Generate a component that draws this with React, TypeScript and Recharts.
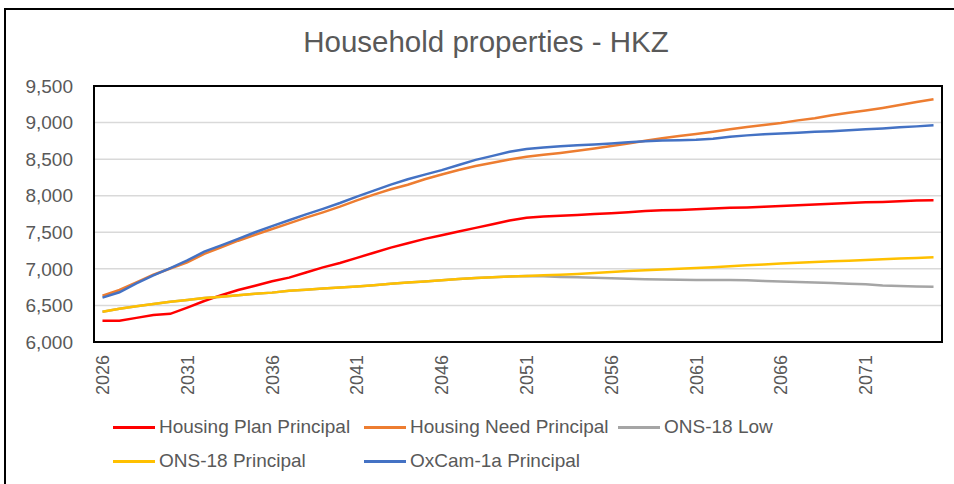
import React from "react";
import {
  LineChart,
  Line,
  XAxis,
  YAxis,
  CartesianGrid,
  ReferenceArea,
  Legend,
} from "recharts";

// ---------------------------------------------------------------------------
// Data
// ---------------------------------------------------------------------------

const years: number[] = Array.from({ length: 50 }, (_, i) => 2026 + i);

const seriesNames = [
  "Housing Plan Principal",
  "Housing Need Principal",
  "ONS-18 Low",
  "ONS-18 Principal",
  "OxCam-1a Principal",
];

const housingPlanPrincipal = [
  6290, 6290, 6330, 6370, 6385, 6470, 6560, 6640, 6710, 6770,
  6830, 6880, 6950, 7020, 7080, 7150, 7220, 7290, 7350, 7410,
  7460, 7510, 7560, 7610, 7660, 7700, 7715, 7725, 7735, 7750,
  7760, 7775, 7790, 7800, 7805, 7815, 7825, 7835, 7840, 7850,
  7860, 7870, 7880, 7890, 7900, 7910, 7915, 7925, 7935, 7937,
];

const housingNeedPrincipal = [
  6633, 6711, 6815, 6920, 7005, 7090, 7205, 7295, 7385, 7467,
  7545, 7622, 7700, 7773, 7850, 7936, 8015, 8088, 8150, 8225,
  8290, 8352, 8405, 8450, 8495, 8534, 8560, 8585, 8615, 8645,
  8680, 8712, 8750, 8785, 8815, 8845, 8875, 8910, 8940, 8968,
  8995, 9030, 9060, 9100, 9135, 9165, 9200, 9240, 9280, 9318,
];

const ons18Low = [
  6415, 6455, 6490, 6520, 6550, 6575, 6600, 6620, 6640, 6660,
  6675, 6700, 6715, 6730, 6745, 6760, 6775, 6795, 6812, 6828,
  6845, 6860, 6875, 6885, 6895, 6902, 6900, 6890, 6885, 6878,
  6872, 6865, 6858, 6855, 6850, 6848, 6847, 6847, 6845, 6835,
  6828, 6820, 6812, 6805, 6797, 6788, 6772, 6765, 6760, 6757,
];

const ons18Principal = [
  6415, 6455, 6490, 6520, 6550, 6575, 6600, 6620, 6640, 6660,
  6675, 6700, 6715, 6730, 6745, 6760, 6775, 6795, 6812, 6828,
  6845, 6860, 6875, 6885, 6895, 6902, 6912, 6920, 6930, 6945,
  6958, 6970, 6980, 6992, 7003, 7012, 7022, 7035, 7048, 7060,
  7072, 7083, 7095, 7105, 7112, 7120, 7130, 7140, 7150, 7158,
];

const oxCam1aPrincipal = [
  6606, 6680, 6800, 6910, 7010, 7115, 7235, 7320, 7410, 7500,
  7585, 7665, 7745, 7820, 7900, 7988, 8070, 8152, 8225, 8288,
  8350, 8419, 8490, 8545, 8600, 8640, 8660, 8675, 8690, 8700,
  8715, 8730, 8745, 8755, 8760, 8765, 8780, 8805, 8825, 8840,
  8850, 8862, 8873, 8883, 8895, 8908, 8920, 8935, 8948, 8963,
];

const yTicks = [6000, 6500, 7000, 7500, 8000, 8500, 9000, 9500];
const yearLabelTicks = [2026, 2031, 2036, 2041, 2046, 2051, 2056, 2061, 2066, 2071];
const yearMarkTicks = [2025.5, 2030.5, 2035.5, 2040.5, 2045.5, 2050.5, 2055.5, 2060.5, 2065.5, 2070.5, 2075.5];

const chartData = years.map((year, i) => ({
  year,
  plan: housingPlanPrincipal[i],
  need: housingNeedPrincipal[i],
  low: ons18Low[i],
  principal: ons18Principal[i],
  oxcam: oxCam1aPrincipal[i],
}));

const FONT = "'Liberation Sans', Arial, sans-serif";
const TEXT = "#595959";

// ---------------------------------------------------------------------------
// Ticks & legend
// ---------------------------------------------------------------------------

const YearTick = (props: any) => {
  const { x, y, payload } = props;
  return (
    <g transform={`translate(${x},${y})`}>
      <text
        transform="rotate(-90)"
        x={-13}
        y={0}
        dy="0.36em"
        textAnchor="end"
        fill={TEXT}
        fontSize={18}
        fontFamily={FONT}
      >
        {payload.value}
      </text>
    </g>
  );
};

const NoTick = () => <g />;

const renderLegend = (props: any) => {
  // keep the series order (Recharts sorts the payload by name)
  const payload = [...(props.payload || [])].sort(
    (a: any, b: any) => seriesNames.indexOf(a.value) - seriesNames.indexOf(b.value)
  );
  return (
    <div
      style={{
        display: "grid",
        gridTemplateColumns: "251px 254px 220px",
        paddingLeft: 113,
        fontFamily: FONT,
        fontSize: 19,
        color: TEXT,
        lineHeight: "34px",
      }}
    >
      {payload.map((entry: any) => (
        <div key={entry.value} style={{ display: "flex", alignItems: "center", whiteSpace: "nowrap" }}>
          <span
            style={{
              display: "inline-block",
              width: 42,
              height: 3,
              background: entry.color,
              marginRight: 4,
            }}
          />
          {entry.value}
        </div>
      ))}
    </div>
  );
};

// ---------------------------------------------------------------------------
// App
// ---------------------------------------------------------------------------

export default function App() {
  return (
    <div style={{ position: "absolute", left: 0, top: 0, width: 954, height: 484, background: "#fff" }}>
      <div
        style={{
          position: "absolute",
          left: 4,
          top: 8,
          width: 950,
          height: 476,
          borderTop: "2px solid #000",
          borderLeft: "2px solid #000",
          boxSizing: "border-box",
        }}
      />
      <div
        style={{
          position: "absolute",
          left: 0,
          top: 27,
          width: 954,
          paddingLeft: 18,
          boxSizing: "border-box",
          textAlign: "center",
          fontFamily: FONT,
          fontSize: 29.5,
          lineHeight: "29.5px",
          color: TEXT,
        }}
      >
        Household properties - HKZ
      </div>
      <LineChart
        width={954}
        height={484}
        data={chartData}
        margin={{ top: 86, right: 12, bottom: 82, left: 0 }}
        style={{ position: "absolute", left: 0, top: 0, fontFamily: FONT }}
      >
        <CartesianGrid vertical={false} stroke="#d9d9d9" strokeWidth={1.5} xAxisId="marks" />
        <XAxis
          xAxisId="marks"
          dataKey="year"
          type="number"
          domain={[2025.5, 2075.5]}
          allowDataOverflow
          ticks={yearMarkTicks}
          interval={0}
          height={0}
          tick={NoTick}
          tickSize={5}
          tickLine={{ stroke: "#000", strokeWidth: 1.5 }}
          axisLine={{ stroke: "#000", strokeWidth: 2 }}
        />
        <XAxis
          xAxisId="labels"
          dataKey="year"
          type="number"
          domain={[2025.5, 2075.5]}
          allowDataOverflow
          ticks={yearLabelTicks}
          interval={0}
          height={60}
          tick={<YearTick />}
          tickSize={0}
          tickMargin={0}
          tickLine={false}
          axisLine={false}
        />
        <YAxis
          domain={[6000, 9500]}
          ticks={yTicks}
          interval={0}
          width={94}
          tickSize={0}
          tickMargin={21}
          tickLine={false}
          axisLine={{ stroke: "#000", strokeWidth: 2 }}
          tick={{ fill: TEXT, fontSize: 19, fontFamily: FONT }}
          tickFormatter={(v: number) => v.toLocaleString("en-US")}
        />
        <ReferenceArea
          xAxisId="marks"
          x1={2025.5}
          x2={2075.5}
          y1={6000}
          y2={9500}
          fill="none"
          stroke="#000"
          strokeWidth={2}
        />
        <Line xAxisId="marks" type="linear" dataKey="plan" name={seriesNames[0]} stroke="#FF0000" strokeWidth={2.5} dot={false} isAnimationActive={false} />
        <Line xAxisId="marks" type="linear" dataKey="need" name={seriesNames[1]} stroke="#ED7D31" strokeWidth={2.5} dot={false} isAnimationActive={false} />
        <Line xAxisId="marks" type="linear" dataKey="low" name={seriesNames[2]} stroke="#A5A5A5" strokeWidth={2.5} dot={false} isAnimationActive={false} />
        <Line xAxisId="marks" type="linear" dataKey="principal" name={seriesNames[3]} stroke="#FFC000" strokeWidth={2.5} dot={false} isAnimationActive={false} />
        <Line xAxisId="marks" type="linear" dataKey="oxcam" name={seriesNames[4]} stroke="#4472C4" strokeWidth={2.5} dot={false} isAnimationActive={false} />
        <Legend
          layout="horizontal"
          verticalAlign="middle"
          align="center"
          wrapperStyle={{ left: 0, top: 410, width: 954 }}
          content={renderLegend}
        />
      </LineChart>
    </div>
  );
}
